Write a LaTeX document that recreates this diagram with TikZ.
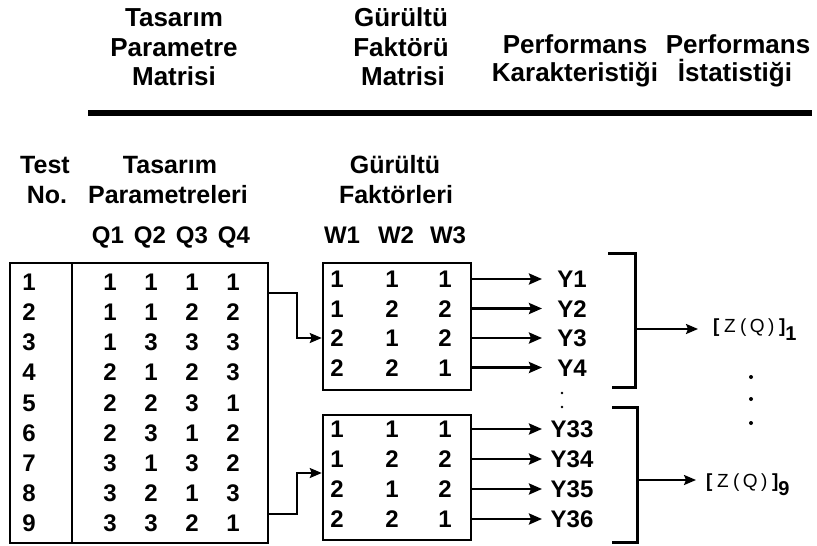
\documentclass[tikz,border=0pt]{standalone}
\usepackage{fontspec}
\setmainfont{Liberation Sans}
\usetikzlibrary{arrows.meta}
\begin{document}
\begin{tikzpicture}[x=1pt,y=-1pt,
  hdr/.style={font=\fontsize{26}{28}\selectfont\bfseries, anchor=base, inner sep=0pt},
  sub/.style={font=\fontsize{25}{27}\selectfont\bfseries, anchor=base, inner sep=0pt},
  cell/.style={font=\fontsize{24}{26}\selectfont\bfseries, anchor=center, inner sep=0pt, text height=17.2pt, text depth=0pt},
  frame/.style={draw, line width=2.5pt, inner sep=0pt},
  link/.style={line width=2pt, -{Stealth[length=12pt,width=10pt,inset=2pt]}},
  outarrow/.style={line width=2.6pt, -{Stealth[length=13pt,width=11pt,inset=2pt]}},
  brk/.style={line width=3pt},
  stat/.style={anchor=west, inner sep=0pt, font=\fontsize{19}{21}\selectfont},
  dot/.style={fill, circle, inner sep=0pt, minimum size=#1}]
\useasboundingbox (0,0) rectangle (817,546);

% ---- top headers
\node[hdr] (h1a) at (174,27) {Tasarım};
\node[hdr] (h1b) at (174,56) {Parametre};
\node[hdr] (h1c) at (174,85) {Matrisi};
\node[hdr] (h2a) at (401,27) {Gürültü};
\node[hdr] (h2b) at (401,56) {Faktörü};
\node[hdr] (h2c) at (403,85) {Matrisi};
\node[hdr] (h3a) at (575,53) {Performans};
\node[hdr] (h3b) at (575,81) {Karakteristiği};
\node[hdr] (h4a) at (738,53) {Performans};
\node[hdr] (h4b) at (735,81) {İstatistiği};
\draw[line width=6pt] (88,113) -- (812,113);

% ---- sub headers
\node[sub] (s1a) at (45,173) {Test};
\node[sub] (s1b) at (47,203) {No.};
\node[sub] (s2a) at (170,173) {Tasarım};
\node[sub] (s2b) at (168,203) {Parametreleri};
\node[sub] (s3a) at (395,173) {Gürültü};
\node[sub] (s3b) at (396,203) {Faktörleri};
\foreach \x [count=\k] in {108,150,192,234}
  \node[cell] (Q\k) at (\x,234.4) {Q\k};
\foreach \x [count=\k] in {342,396,448}
  \node[cell] (W\k) at (\x,234.4) {W\k};

% ---- design parameter matrix
\node[frame, minimum width=258pt, minimum height=280pt] (tp) at (139,403) {};
\draw[line width=2.5pt] (72,263) -- (72,543);
\foreach \a/\b/\c/\d [count=\i] in {1/1/1/1,1/1/2/2,1/3/3/3,2/1/2/3,2/2/3/1,2/3/1/2,3/1/3/2,3/2/1/3,3/3/2/1}{
  \pgfmathsetmacro\yy{282+30.1*(\i-1)}
  \node[cell] (t\i) at (29,\yy) {\i};
  \node[cell] (p\i-1) at (110,\yy) {\a};
  \node[cell] (p\i-2) at (151,\yy) {\b};
  \node[cell] (p\i-3) at (192,\yy) {\c};
  \node[cell] (p\i-4) at (233,\yy) {\d};
}

% ---- noise factor matrices
\node[frame, minimum width=148pt, minimum height=127pt] (nA) at (397,326.5) {};
\node[frame, minimum width=148pt, minimum height=125pt] (nB) at (397,477.5) {};
\foreach \a/\b/\c [count=\i] in {1/1/1,1/2/2,2/1/2,2/2/1}{
  \pgfmathsetmacro\ya{279+29.5*(\i-1)}
  \pgfmathsetmacro\yb{429+30*(\i-1)}
  \node[cell] (a\i-1) at (337,\ya) {\a};
  \node[cell] (a\i-2) at (392,\ya) {\b};
  \node[cell] (a\i-3) at (445,\ya) {\c};
  \node[cell] (b\i-1) at (337,\yb) {\a};
  \node[cell] (b\i-2) at (392,\yb) {\b};
  \node[cell] (b\i-3) at (445,\yb) {\c};
}

% connectors from the design matrix to the noise matrices
\coordinate (c1) at (268,293);
\coordinate (c2) at (268,514);
\draw[link] (c1) -- ++(29,0) |- (nA.west |- a3-1);
\draw[link] (c2) -- ++(29,0) |- (nB.west |- 0,473);

% ---- responses
\coordinate (tipcol) at (542,0);
\foreach \n [count=\i] in {1,2,3,4}{
  \pgfmathsetmacro\ya{279+29.5*(\i-1)}
  \node[cell] (y\n) at (572,\ya) {Y\n};
  \draw[outarrow] (nA.east |- y\n) -- (tipcol |- y\n);
}
\foreach \n [count=\i] in {33,34,35,36}{
  \pgfmathsetmacro\yb{429+30*(\i-1)}
  \node[cell] (y\n) at (572,\yb) {Y\n};
  \draw[outarrow] (nB.east |- y\n) -- (tipcol |- y\n);
}
\node[dot=2.8pt] (d1) at (562,393) {};
\node[dot=2.8pt] (d2) at (562,407) {};

% ---- brackets
\draw[brk] (608,253) -| (635,387) -- (612,387);
\draw[brk] (612,407) -| (637,542) -- (612,542);
\coordinate (b1) at (635,329);
\coordinate (b2) at (637,480);

% ---- statistics
\node[stat] (z1) at (713,330)
  {\textbf{[}\hspace{4.5pt}Z\hspace{4.5pt}(\hspace{3.5pt}Q\hspace{3.5pt})\hspace{4.5pt}\textbf{]}\raisebox{-8pt}{\textbf{\fontsize{20}{20}\selectfont 1}}};
\node[stat] (z9) at (706,485)
  {\textbf{[}\hspace{4.5pt}Z\hspace{4.5pt}(\hspace{3.5pt}Q\hspace{3.5pt})\hspace{4.5pt}\textbf{]}\raisebox{-8pt}{\textbf{\fontsize{20}{20}\selectfont 9}}};
\draw[link] (b1) -- ([xshift=-15pt]z1.west |- b1);
\draw[link] (b2) -- ([xshift=-10pt]z9.west |- b2);
\node[dot=4pt] (v1) at (751,377) {};
\node[dot=4pt] (v2) at (751,399) {};
\node[dot=4pt] (v3) at (751,423) {};
\end{tikzpicture}
\end{document}
